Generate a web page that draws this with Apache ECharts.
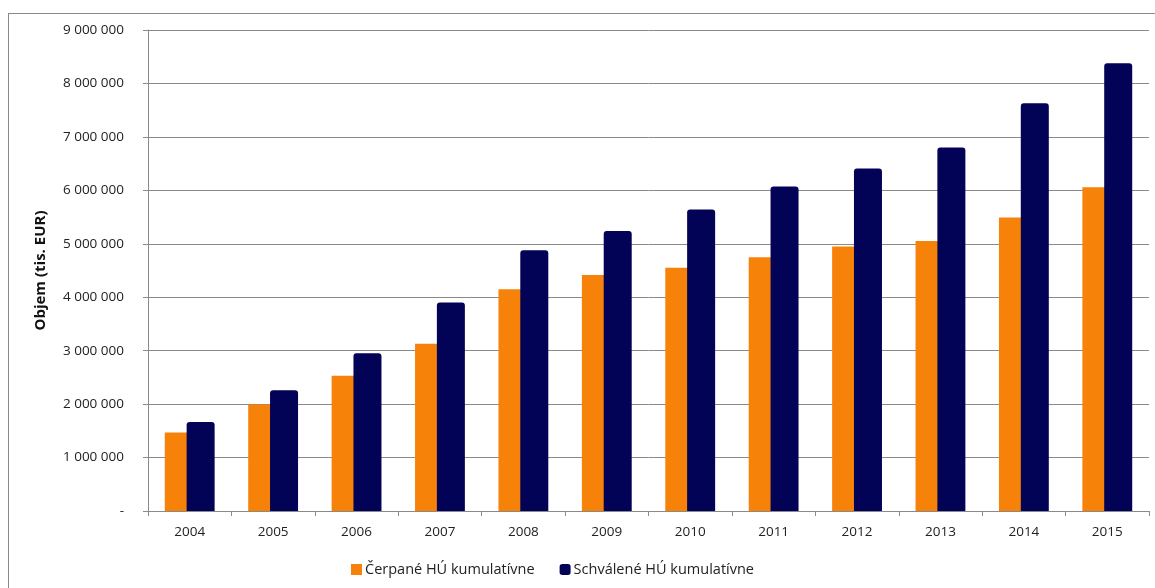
<!DOCTYPE html>
<html>
<head>
<meta charset="utf-8">
<script src="https://cdn.jsdelivr.net/npm/echarts@6/dist/echarts.min.js"></script>
<style>
  html, body { margin: 0; padding: 0; background: #fff; }
  #frame { position: absolute; left: 8px; top: 13px; width: 1160px; height: 600px; border: 1px solid #8a8a8a; box-sizing: border-box; }
  #chart { position: absolute; left: 0; top: 0; width: 1155px; height: 588px; }
</style>
</head>
<body>
<div id="frame"></div>
<div id="chart"></div>
<script>
// Years on the category axis
const years = ['2004', '2005', '2006', '2007', '2008', '2009', '2010', '2011', '2012', '2013', '2014', '2015'];
// Cumulative drawn amounts (tis. EUR)
const cerpane = [1470000, 1995000, 2530000, 3130000, 4150000, 4415000, 4550000, 4750000, 4950000, 5050000, 5490000, 6060000];
// Cumulative approved amounts (tis. EUR)
const schvalene = [1665000, 2260000, 2950000, 3900000, 4880000, 5240000, 5640000, 6070000, 6410000, 6800000, 7630000, 8380000];
const seriesNames = ['Čerpané HÚ kumulatívne', 'Schválené HÚ kumulatívne'];
const yAxisTitle = 'Objem (tis. EUR)';

const font = '"Open Sans", "Liberation Sans", sans-serif';
const chart = echarts.init(document.getElementById('chart'), null, { renderer: 'canvas' });

function fmt(v) {
  if (v === 0) return '-';
  return String(v).replace(/\B(?=(\d{3})+(?!\d))/g, ' ');
}

chart.setOption({
  animation: false,
  backgroundColor: 'transparent',
  grid: { left: 148, right: 6, top: 30, bottom: 77, containLabel: false },
  legend: {
    left: 346, top: 557,
    itemWidth: 11, itemHeight: 11, itemGap: 25,
    textStyle: { fontFamily: font, fontSize: 14.5, color: '#222', padding: [0, 0, 0, -2] },
    data: [
      { name: seriesNames[0], icon: 'rect' },
      { name: seriesNames[1], icon: 'roundRect' }
    ]
  },
  xAxis: {
    type: 'category',
    data: years,
    axisLine: { lineStyle: { color: '#8a8a8a', width: 1 } },
    axisTick: { show: true, length: 5, lineStyle: { color: '#8a8a8a' } },
    axisLabel: { fontFamily: font, fontSize: 13.5, color: '#222', margin: 14 }
  },
  yAxis: {
    type: 'value',
    min: 0, max: 9000000, interval: 1000000,
    name: yAxisTitle,
    nameLocation: 'middle',
    nameGap: 100,
    nameTextStyle: { fontFamily: font, fontSize: 15, fontWeight: 'bold', color: '#111' },
    axisLine: { show: true, lineStyle: { color: '#8a8a8a', width: 1 } },
    axisTick: { show: true, length: 5, lineStyle: { color: '#8a8a8a' } },
    axisLabel: { fontFamily: font, fontSize: 13.5, color: '#222', margin: 24, formatter: fmt },
    splitLine: { lineStyle: { color: '#8a8a8a', width: 1 } }
  },
  series: [
    {
      name: seriesNames[0], type: 'bar', data: cerpane,
      barWidth: 28, barGap: '-22%',
      itemStyle: { color: '#F7820A' }
    },
    {
      name: seriesNames[1], type: 'bar', data: schvalene,
      barWidth: 28, barGap: '-22%',
      itemStyle: { color: '#020257', borderRadius: [3, 3, 0, 0] }
    }
  ]
});
</script>
</body>
</html>
